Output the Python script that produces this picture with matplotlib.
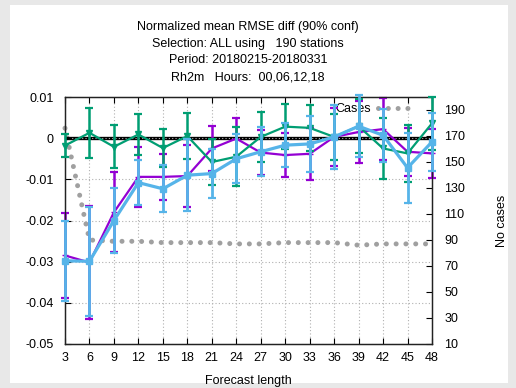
import matplotlib
matplotlib.use("Agg")
import matplotlib.pyplot as plt
from matplotlib.patches import Rectangle

plt.rcParams['font.family'] = ['Liberation Sans', 'DejaVu Sans']
plt.rcParams['font.size'] = 9

# forecast lengths (h)
hours = [3, 6, 9, 12, 15, 18, 21, 24, 27, 30, 33, 36, 39, 42, 45, 48]

# normalized mean RMSE diff and 90% half-width, per experiment
purple_mean = [-0.0285, -0.0302, -0.0180, -0.0094, -0.0094, -0.0092, -0.0025, -0.0001,
               -0.0035, -0.0041, -0.0038, 0.0003, 0.0015, 0.0022, -0.0033, -0.0037]
purple_err = [0.0103, 0.0137, 0.0097, 0.0073, 0.0055, 0.0075, 0.0055, 0.0051,
              0.0055, 0.0053, 0.0063, 0.0070, 0.0075, 0.0075, 0.0058, 0.0060]

green_mean = [-0.0018, 0.0013, -0.0021, 0.0009, -0.0024, 0.0005, -0.0058, -0.0045,
              0.0003, 0.0028, 0.0025, 0.0003, 0.0029, -0.0025, -0.0037, 0.0036]
green_err = [0.0028, 0.0060, 0.0052, 0.0050, 0.0047, 0.0055, 0.0055, 0.0072,
             0.0060, 0.0055, 0.0055, 0.0055, 0.0065, 0.0075, 0.0070, 0.0064]

blue_mean = [-0.0298, -0.0299, -0.0200, -0.0108, -0.0123, -0.0090, -0.0086, -0.0050,
             -0.0033, -0.0017, -0.0014, 0.0003, 0.0029, 0.0007, -0.0072, -0.0009]
blue_err = [0.0098, 0.0133, 0.0080, 0.0055, 0.0057, 0.0087, 0.0060, 0.0060,
            0.0060, 0.0054, 0.0067, 0.0078, 0.0075, 0.0064, 0.0085, 0.0070]

# number of cases (right axis)
cases = [176, 90, 89, 89, 88, 88, 88, 87, 87, 88, 88, 88, 86, 87, 87, 87]

title_lines = ["Normalized mean RMSE diff (90% conf)",
               "Selection: ALL using   190 stations",
               "Period: 20180215-20180331",
               "Rh2m   Hours:  00,06,12,18"]

W, H = 516, 388
fig = plt.figure(figsize=(W / 100, H / 100), dpi=100, facecolor='#e8e8e8')
fig.patches.append(Rectangle((10 / W, 5 / H), 498 / W, 378 / H, transform=fig.transFigure,
                             facecolor='white', edgecolor='none', zorder=-10))

ax = fig.add_axes([65 / W, (H - 344) / H, (432 - 65) / W, (344 - 97) / H])
ax.set_facecolor('none')
ax2 = ax.twinx()
ax2.set_zorder(ax.get_zorder() - 1)

# cases on right axis
ax2.plot(hours, cases, color='#a0a0a0', lw=3.6, linestyle=(0, (0.01, 1.95)),
         dash_capstyle='round', label='Cases', clip_on=False)
ax2.set_ylim(10, 200)
ax2.set_yticks(range(10, 191, 20))
ax2.tick_params(axis='y', direction='in', length=4, pad=9, labelsize=9)
ax2.set_ylabel("No cases", labelpad=22)

# zero line
ax.axhline(0, color='black', lw=2.4, zorder=1)

series = [(purple_mean, purple_err, '#9400d3', 1.6, 1.8, '+', 4, 2),
          (green_mean, green_err, '#009e73', 1.6, 1.8, 'v', 4, 3),
          (blue_mean, blue_err, '#56b4e9', 2.3, 2.0, 's', 5, 4)]
for mean, err, col, lw, elw, mk, ms, z in series:
    eb = ax.errorbar(hours, mean, yerr=err, color=col, lw=lw, elinewidth=elw,
                     capsize=3, capthick=1.6, marker=mk, ms=ms, zorder=z)
    for art in eb.lines[1] + eb.lines[2] + (eb.lines[0],):
        art.set_clip_on(False)

ax.set_xlim(3, 48)
ax.set_ylim(-0.05, 0.01)
ax.set_xticks(hours)
ax.set_yticks([-0.05, -0.04, -0.03, -0.02, -0.01, 0, 0.01])
ax.set_yticklabels(["-0.05", "-0.04", "-0.03", "-0.02", "-0.01", "0", "0.01"])
ax.grid(True, color='#b0b0b0', linestyle=(0, (1, 2)), lw=0.8)
ax.tick_params(axis='x', direction='in', length=4, pad=6, top=True)
ax.tick_params(axis='y', direction='in', length=4, pad=8, right=False)
ax.set_xlabel("Forecast length", labelpad=8)
for s in list(ax.spines.values()) + list(ax2.spines.values()):
    s.set_color('#222222')
    s.set_linewidth(0.9)

leg = ax2.legend(loc='upper right', bbox_to_anchor=((418 - 65) / (432 - 65), 1.005),
                 frameon=False, markerfirst=False, handlelength=2.6, handletextpad=0.6,
                 borderaxespad=0.2)

for i, line in enumerate(title_lines):
    fig.text(248 / W, 1 - [27, 43.5, 60, 77][i] / H, line, ha='center', va='center', fontsize=9)

fig.savefig("out.png", dpi=100, facecolor=fig.get_facecolor())
